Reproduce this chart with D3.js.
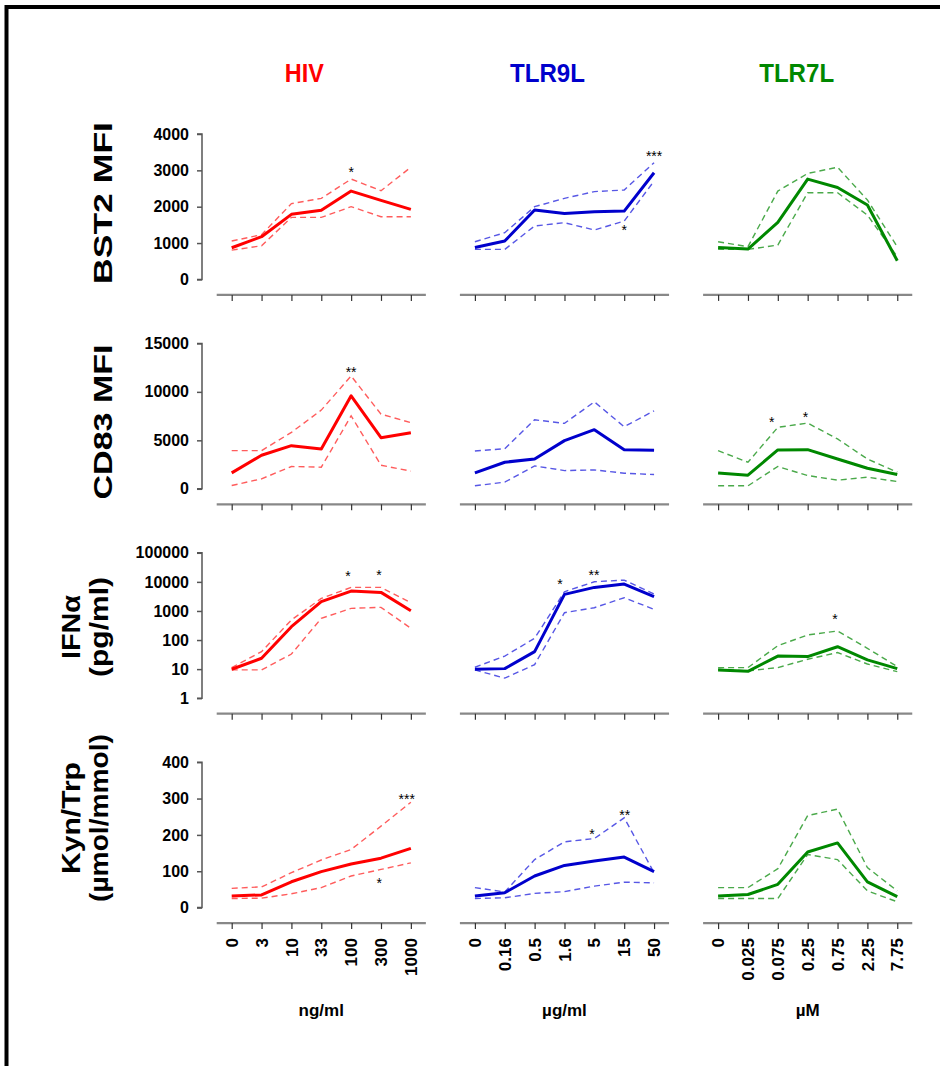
<!DOCTYPE html>
<html><head><meta charset="utf-8">
<script src="https://cdn.jsdelivr.net/npm/d3@7"></script>
<style>
body{margin:0;background:#fff}
svg text{font-family:"Liberation Sans",Arial,Helvetica,sans-serif;font-weight:bold}
</style>
</head><body>
<svg id="chart" width="940" height="1066"></svg>
<script>
// ---------- DATA ----------
const columns = ["HIV", "TLR9L", "TLR7L"];
const columnUnits = ["ng/ml", "µg/ml", "µM"];
const hivDoses = ["0", "3", "10", "33", "100", "300", "1000"];
const tlr9Doses = ["0", "0.16", "0.5", "1.6", "5", "15", "50"];
const tlr7Doses = ["0", "0.025", "0.075", "0.25", "0.75", "2.25", "7.75"];
const rowLabels = [["BST2 MFI"], ["CD83 MFI"], ["IFNα", "(pg/ml)"], ["Kyn/Trp", "(µmol/mmol)"]];
const bst2Ticks = [0, 1000, 2000, 3000, 4000];
const cd83Ticks = [0, 5000, 10000, 15000];
const ifnTicks = [1, 10, 100, 1000, 10000, 100000];
const kynTicks = [0, 100, 200, 300, 400];

// BST2 MFI
const bst2HivMean = [870, 1175, 1790, 1905, 2430, 2175, 1925];
const bst2HivUpper = [1055, 1230, 2085, 2230, 2760, 2440, 3085];
const bst2HivLower = [805, 925, 1705, 1705, 2000, 1725, 1725];
const bst2Tlr9Mean = [880, 1055, 1910, 1815, 1860, 1880, 2935];
const bst2Tlr9Upper = [1035, 1285, 2000, 2230, 2415, 2460, 3210];
const bst2Tlr9Lower = [825, 825, 1470, 1560, 1360, 1605, 2705];
const bst2Tlr7Mean = [880, 835, 1570, 2760, 2530, 2045, 515];
const bst2Tlr7Upper = [1035, 900, 2430, 2915, 3085, 2185, 900];
const bst2Tlr7Lower = [825, 825, 945, 2385, 2385, 1770, 625];

// CD83 MFI
const cd83HivMean = [1640, 3460, 4450, 4110, 9590, 5270, 5790];
const cd83HivUpper = [3940, 3940, 5820, 8120, 11640, 7700, 6820];
const cd83HivLower = [340, 1030, 2300, 2230, 7530, 2430, 1820];
const cd83Tlr9Mean = [1640, 2740, 3080, 4970, 6100, 4040, 3970];
const cd83Tlr9Upper = [3900, 4140, 7120, 6750, 8970, 6400, 8050];
const cd83Tlr9Lower = [310, 690, 2360, 1880, 1950, 1610, 1470];
const cd83Tlr7Mean = [1640, 1400, 4010, 4040, 3080, 2120, 1470];
const cd83Tlr7Upper = [3940, 2740, 6340, 6780, 5140, 3080, 1710];
const cd83Tlr7Lower = [310, 310, 2300, 1370, 890, 1200, 750];

// IFNα (pg/ml), log scale
const ifnHivMean = [9.9, 23.6, 288, 2080, 4830, 4350, 1020];
const ifnHivUpper = [11.3, 40, 489, 2700, 6460, 6460, 1920];
const ifnHivLower = [9.4, 9.4, 33, 557, 1230, 1330, 253];
const ifnTlr9Mean = [9.9, 10.4, 40, 3715, 6460, 8400, 3090];
const ifnTlr9Upper = [11.6, 28, 115, 4580, 10100, 11500, 3800];
const ifnTlr9Lower = [9.4, 4.9, 14.3, 871, 1295, 2850, 1135];
const ifnTlr7Mean = [9.4, 8.4, 28, 27, 59, 20.7, 10.4];
const ifnTlr7Upper = [11.3, 11.3, 64, 149, 205, 52, 12.2];
const ifnTlr7Lower = [9.9, 8.7, 11.3, 21.8, 37, 15, 8.2];

// Kyn/Trp (µmol/mmol)
const kynHivMean = [32, 35, 71, 99, 120, 136, 163];
const kynHivUpper = [53, 57, 96, 131, 160, 224, 290];
const kynHivLower = [25, 26, 38, 55, 87, 105, 123];
const kynTlr9Mean = [32, 41, 87, 116, 128, 139, 99];
const kynTlr9Upper = [55, 43, 132, 181, 190, 247, 96];
const kynTlr9Lower = [25, 27, 39, 44, 59, 70, 68];
const kynTlr7Mean = [32, 36, 64, 153, 178, 71, 30];
const kynTlr7Upper = [55, 55, 107, 253, 271, 110, 46];
const kynTlr7Lower = [25, 25, 25, 146, 132, 46, 16];

// significance marks: row, column, dose position, value, label
const stars = [
  {row: 0, col: 0, pos: 4, value: 3036, label: "*"},
  {row: 0, col: 1, pos: 6, value: 3485, label: "***"},
  {row: 0, col: 1, pos: 5, value: 1448, label: "*"},
  {row: 1, col: 0, pos: 4, value: 12360, label: "**"},
  {row: 1, col: 2, pos: 1.8, value: 7223, label: "*"},
  {row: 1, col: 2, pos: 2.93, value: 7737, label: "*"},
  {row: 2, col: 0, pos: 3.89, value: 20100, label: "*"},
  {row: 2, col: 0, pos: 4.93, value: 21700, label: "*"},
  {row: 2, col: 1, pos: 2.85, value: 10950, label: "*"},
  {row: 2, col: 1, pos: 3.99, value: 22900, label: "**"},
  {row: 2, col: 2, pos: 3.91, value: 670, label: "*"},
  {row: 3, col: 0, pos: 5.86, value: 308, label: "***"},
  {row: 3, col: 0, pos: 4.94, value: 77.5, label: "*"},
  {row: 3, col: 1, pos: 3.92, value: 212.6, label: "*"},
  {row: 3, col: 1, pos: 5.02, value: 263, label: "**"}
];

// ---------- LAYOUT ----------
const doseLabels = [hivDoses, tlr9Doses, tlr7Doses];
const colors = ["#ff0000", "#0000cc", "#008800"];
const dashColors = ["#ff4040", "#3a3ae0", "#2a9a2a"];
const rows = [
  {ticks: bst2Ticks, log: false, domain: [0, 4000],
   series: [[bst2HivMean, bst2HivUpper, bst2HivLower], [bst2Tlr9Mean, bst2Tlr9Upper, bst2Tlr9Lower], [bst2Tlr7Mean, bst2Tlr7Upper, bst2Tlr7Lower]]},
  {ticks: cd83Ticks, log: false, domain: [0, 15000],
   series: [[cd83HivMean, cd83HivUpper, cd83HivLower], [cd83Tlr9Mean, cd83Tlr9Upper, cd83Tlr9Lower], [cd83Tlr7Mean, cd83Tlr7Upper, cd83Tlr7Lower]]},
  {ticks: ifnTicks, log: true, domain: [1, 100000],
   series: [[ifnHivMean, ifnHivUpper, ifnHivLower], [ifnTlr9Mean, ifnTlr9Upper, ifnTlr9Lower], [ifnTlr7Mean, ifnTlr7Upper, ifnTlr7Lower]]},
  {ticks: kynTicks, log: false, domain: [0, 400],
   series: [[kynHivMean, kynHivUpper, kynHivLower], [kynTlr9Mean, kynTlr9Upper, kynTlr9Lower], [kynTlr7Mean, kynTlr7Upper, kynTlr7Lower]]}
];
// row-label placement: centre y, baseline x per line, along-text length per line
const labelGeom = [
  {cy: 203, bx: [112], len: [162]},
  {cy: 422, bx: [112], len: [155]},
  {cy: 627, bx: [80, 108], len: [64, 100]},
  {cy: 818, bx: [80, 108], len: [112, 168]}
];

const svg = d3.select("#chart");
svg.append("rect").attr("width", 940).attr("height", 1066).attr("fill", "#fff");
// frame
svg.append("path").attr("d", "M6.5,1066 V7 H940").attr("fill", "none")
  .attr("stroke", "#000").attr("stroke-width", 4);

const rowTop0 = 134, rowStep = 209.4, rowH = 145.4, axisGap = 15.5;
const colX0 = 231.7, colStep = 243.2, posStep = 29.86;
const yAxisX = 202;

const xScales = columns.map((c, ci) =>
  d3.scaleLinear().domain([0, 6]).range([colX0 + ci * colStep, colX0 + ci * colStep + 6 * posStep]));

const yScales = rows.map((r, ri) => {
  const top = rowTop0 + ri * rowStep, bottom = top + rowH;
  return (r.log ? d3.scaleLog() : d3.scaleLinear()).domain(r.domain).range([bottom, top]);
});

// column titles
const titleOffsets = [-17, -17, -11];
columns.forEach((c, ci) => {
  const mid = (xScales[ci].range()[0] + xScales[ci].range()[1]) / 2;
  svg.append("text").attr("x", mid + titleOffsets[ci]).attr("y", 82)
    .attr("text-anchor", "middle").attr("font-size", 25).attr("fill", colors[ci])
    .attr("textLength", c.length === 3 ? 39 : 75).attr("lengthAdjust", "spacingAndGlyphs")
    .text(c);
});

rows.forEach((r, ri) => {
  const y = yScales[ri];
  const bottom = y.range()[0];
  // y axis (first column only)
  const yAxis = d3.axisLeft(y).tickValues(r.ticks).tickFormat(d3.format("d"))
    .tickSize(5).tickPadding(8);
  const ga = svg.append("g").attr("transform", `translate(${yAxisX},0)`).call(yAxis);
  ga.select(".domain").attr("stroke", "#555").attr("stroke-width", 1.5).attr("d", `M-5,${y.range()[1]}H0V${bottom}H-5`);
  ga.selectAll(".tick line").attr("stroke", "#555").attr("stroke-width", 1.5);
  ga.selectAll(".tick text").attr("font-size", 16).attr("fill", "#000")
    .style("font-family", '"Liberation Sans",Arial,sans-serif').style("font-weight", "bold");

  // row label
  const lines = rowLabels[ri];
  const g = labelGeom[ri];
  lines.forEach((t, li) => {
    svg.append("text").attr("transform", `translate(${g.bx[li]},${g.cy}) rotate(-90)`)
      .attr("text-anchor", "middle").attr("font-size", 26).attr("fill", "#000")
      .attr("textLength", g.len[li]).attr("lengthAdjust", "spacingAndGlyphs").text(t);
  });

  columns.forEach((c, ci) => {
    const x = xScales[ci];
    const axY = bottom + axisGap;
    // x axis
    const gx = svg.append("g").attr("transform", `translate(0,${axY})`)
      .call(d3.axisBottom(x).tickValues(d3.range(7)).tickSize(6).tickFormat(""));
    gx.select(".domain").attr("stroke", "#888").attr("stroke-width", 2.2)
      .attr("d", `M${x.range()[0] - 15},0H${x.range()[1] + 15}`);
    gx.selectAll(".tick line").attr("stroke", "#333").attr("stroke-width", 1.2);

    const [mean, upper, lower] = r.series[ci];
    const line = d3.line().x((d, i) => x(i)).y(d => y(d));
    [upper, lower].forEach(s => {
      svg.append("path").datum(s).attr("d", line).attr("fill", "none")
        .attr("stroke", dashColors[ci]).attr("stroke-width", 1.4)
        .attr("stroke-dasharray", "6,4").attr("opacity", 0.85);
    });
    svg.append("path").datum(mean).attr("d", line).attr("fill", "none")
      .attr("stroke", colors[ci]).attr("stroke-width", 3).attr("stroke-linejoin", "round");

    // x tick labels on last row
    if (ri === rows.length - 1) {
      doseLabels[ci].forEach((lab, i) => {
        svg.append("text").attr("transform", `translate(${x(i)},${axY + 15}) rotate(-90)`)
          .attr("text-anchor", "end").attr("dy", "0.36em").attr("font-size", 17)
          .attr("fill", "#000").text(lab);
      });
      svg.append("text").attr("x", (x.range()[0] + x.range()[1]) / 2).attr("y", 1016)
        .attr("text-anchor", "middle").attr("font-size", 17).attr("fill", "#000")
        .text(columnUnits[ci]);
    }
  });
});

// significance stars
stars.forEach(s => {
  svg.append("text").attr("x", xScales[s.col](s.pos)).attr("y", yScales[s.row](s.value))
    .attr("dy", "0.6em").attr("text-anchor", "middle").attr("font-size", 14)
    .style("font-weight", "normal")
    .attr("fill", "#000").text(s.label);
});
</script>
</body></html>
